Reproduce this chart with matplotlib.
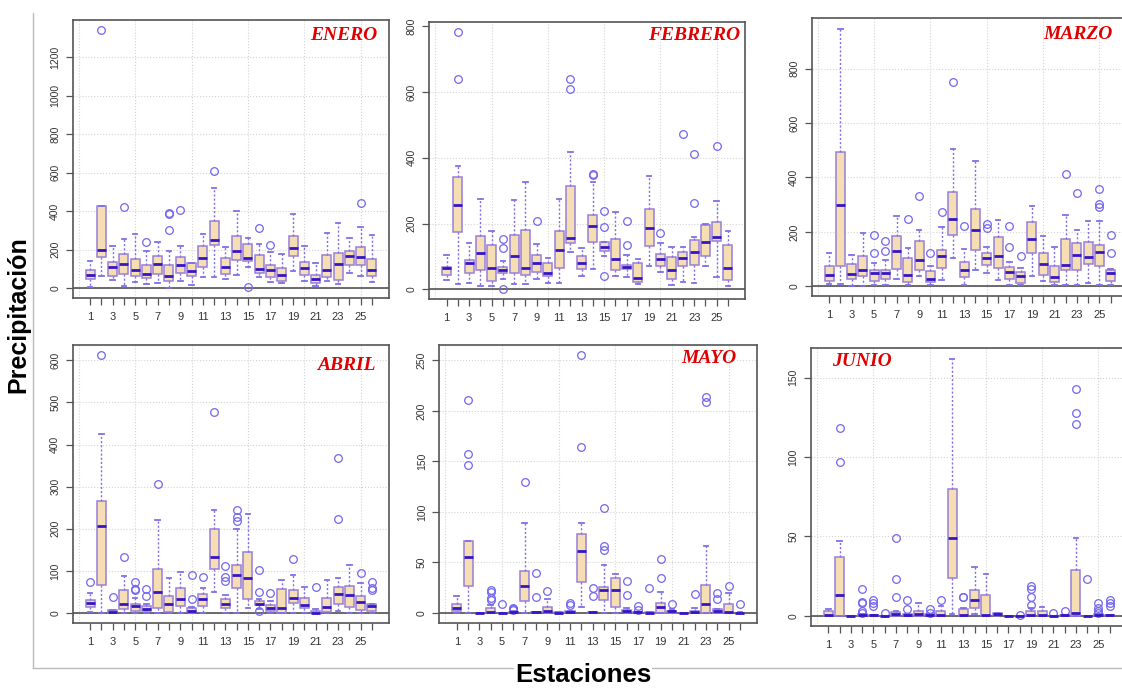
"""
Boxplots de precipitación mensual (enero-junio) por estación.
Réplica en matplotlib del gráfico de 6 paneles estilo R.
"""

import matplotlib
matplotlib.use("Agg")
import matplotlib.pyplot as plt
from matplotlib.lines import Line2D
from matplotlib.ticker import MultipleLocator


# ──────────────────────────────────────────────
# Datos: (bigote inf, Q1, mediana, Q3, bigote sup)
# ──────────────────────────────────────────────

STATIONS = list(range(1, 27))
MONTHS = ["ENERO", "FEBRERO", "MARZO", "ABRIL", "MAYO", "JUNIO"]

ENERO_BOX = [
    (5, 47, 69, 92, 142), (60, 160, 196, 425, 425), (40, 64, 109, 135, 217),
    (12, 73, 127, 177, 255), (30, 62, 95, 153, 281), (21, 52, 75, 118, 191),
    (24, 73, 125, 165, 239), (0, 35, 61, 118, 190), (35, 78, 118, 160, 220),
    (17, 61, 87, 128, 130), (55, 107, 156, 217, 281), (57, 222, 251, 347, 520),
    (47, 75, 111, 156, 212), (68, 147, 191, 269, 402), (109, 142, 156, 229, 260),
    (55, 78, 99, 172, 229), (33, 57, 95, 118, 187), (24, 35, 66, 102, 177),
    (87, 165, 206, 272, 385), (38, 68, 106, 135, 217), (12, 26, 47, 69, 130),
    (38, 59, 92, 173, 286), (23, 43, 125, 182, 338), (78, 118, 168, 191, 260),
    (64, 121, 163, 213, 317), (30, 64, 95, 151, 278),
]
ENERO_OUT = {2: [1341], 4: [423], 6: [239], 8: [385, 388, 304], 9: [404],
             12: [607], 15: [5], 16: [310], 17: [222], 25: [441]}

FEBRERO_BOX = [
    (28, 44, 64, 69, 104), (16, 175, 256, 342, 376), (18, 51, 79, 89, 140),
    (10, 59, 111, 163, 274), (10, 26, 64, 135, 177), (33, 49, 59, 69, 86),
    (16, 49, 102, 165, 271), (16, 44, 64, 180, 327), (33, 54, 79, 104, 137),
    (20, 40, 51, 81, 94), (20, 64, 119, 177, 274), (114, 142, 157, 314, 418),
    (40, 61, 79, 102, 127), (61, 145, 193, 226, 327), (101, 117, 130, 143, 143),
    (40, 59, 91, 153, 234), (38, 61, 69, 74, 104), (16, 23, 36, 79, 91),
    (71, 132, 188, 243, 344), (54, 71, 91, 109, 140), (13, 33, 59, 99, 128),
    (23, 71, 94, 114, 128), (18, 74, 114, 150, 160), (72, 102, 143, 197, 200),
    (38, 147, 158, 206, 268), (10, 28, 64, 135, 177),
]
FEBRERO_OUT = {2: [783, 639], 6: [153, 125, 1], 9: [208], 12: [639, 610],
               14: [352, 349], 15: [239, 190, 42], 17: [209, 135], 20: [170],
               22: [472], 23: [413, 264], 25: [436]}

MARZO_BOX = [
    (10, 18, 43, 74, 123), (10, 74, 298, 492, 947), (2, 25, 45, 82, 116),
    (2, 37, 61, 113, 196), (6, 21, 47, 61, 86), (6, 25, 47, 59, 98),
    (25, 64, 129, 184, 257), (6, 15, 42, 104, 141), (37, 59, 96, 165, 208),
    (6, 16, 28, 55, 76), (22, 67, 113, 135, 217), (104, 187, 247, 345, 505),
    (4, 34, 59, 89, 137), (59, 135, 205, 284, 459), (47, 77, 104, 123, 145),
    (22, 67, 113, 181, 245), (6, 27, 51, 71, 88), (4, 12, 37, 51, 67),
    (37, 123, 174, 235, 294), (18, 43, 82, 123, 184), (4, 15, 33, 74, 143),
    (4, 61, 77, 174, 263), (4, 61, 116, 159, 208), (12, 80, 108, 162, 239),
    (4, 74, 126, 153, 239), (4, 18, 49, 59, 62),
]
MARZO_OUT = {5: [190, 123], 6: [167, 131], 8: [249], 9: [331], 10: [123],
             11: [272], 12: [751], 13: [223], 15: [227, 214], 17: [221, 145],
             18: [113], 22: [413], 23: [343], 25: [358, 303, 292], 26: [190, 123]}

ABRIL_BOX = [
    (2, 14, 24, 32, 47), (0, 66, 207, 267, 425), (0, 0, 2, 6, 8),
    (0, 10, 22, 54, 87), (0, 4, 17, 21, 36), (0, 4, 10, 16, 22),
    (0, 12, 49, 105, 220), (0, 2, 22, 41, 82), (0, 17, 33, 59, 97),
    (0, 2, 4, 12, 14), (0, 17, 33, 44, 59), (51, 104, 132, 199, 245),
    (0, 12, 22, 33, 42), (0, 59, 91, 115, 199), (12, 33, 83, 146, 236),
    (9, 18, 22, 28, 33), (0, 4, 12, 20, 29), (0, 0, 12, 57, 78),
    (0, 24, 36, 55, 91), (0, 12, 20, 36, 61), (0, 0, 1, 4, 10),
    (0, 2, 14, 36, 78), (4, 21, 45, 62, 82), (0, 14, 42, 65, 115),
    (0, 8, 26, 40, 71), (0, 4, 17, 22, 22),
]
ABRIL_OUT = {1: [73], 2: [612], 3: [37], 4: [133], 5: [73, 57, 55], 6: [57, 40],
             7: [307], 10: [91, 33], 11: [85], 12: [477], 13: [112, 85, 75],
             14: [244, 227, 218], 16: [103, 50, 4], 17: [47], 19: [128],
             21: [62], 23: [368, 223], 25: [95], 26: [74, 59, 55]}

MAYO_BOX = [
    (0, 2, 5, 9, 17), (0, 27, 55, 71, 71), (0, 0, 0, 0, 0),
    (0, 0, 1, 5, 8), (0, 0, 0, 0, 0), (0, 0, 0.5, 1, 2),
    (0, 12, 27, 42, 89), (0, 0, 0.5, 1, 1), (0, 1, 2, 6, 14),
    (0, 0, 0, 0.5, 1), (0, 0, 1, 2, 2), (6, 31, 61, 78, 89),
    (0, 0, 0.5, 1, 1), (0, 13, 23, 26, 47), (0, 6, 23, 35, 39),
    (0, 1, 2, 3, 5), (0, 0, 0.5, 1, 1), (0, 0, 0, 0.5, 1),
    (0, 0, 6, 10, 21), (0, 0, 2, 2, 4), (0, 0, 0, 0, 0),
    (0, 0, 1, 2, 5), (0, 0, 9, 28, 66), (0, 0, 2, 4, 4),
    (0, 0, 1, 9, 20), (0, 0, 0, 0, 0.5),
]
MAYO_OUT = {2: [211, 157, 146], 4: [23, 21, 15, 13], 5: [9], 6: [5, 4, 3],
            7: [130], 8: [40, 16], 9: [22], 11: [10, 8], 12: [255, 164],
            13: [25, 17], 14: [104, 66, 62], 16: [32, 18], 17: [7, 3], 18: [25],
            19: [53, 35], 20: [9], 22: [19], 23: [214, 209], 24: [20, 14],
            25: [27], 26: [9]}

JUNIO_BOX = [
    (0, 0, 0.4, 3, 4), (0, 0, 13, 37, 47), (0, 0, 0, 0, 0),
    (0, 0, 0.3, 1, 1), (0, 0, 0.2, 0.5, 0.5), (0, 0, 0, 0, 0),
    (0, 0, 1, 2.5, 3), (0, 0, 0.5, 1, 1), (0, 0, 1, 3, 8),
    (0, 0, 0.3, 1, 1), (0, 0, 0.4, 3, 6), (1, 23.5, 49, 80, 162),
    (0, 0, 0.6, 4, 4.6), (1, 5, 10, 16, 31), (0, 0, 0.4, 13, 26),
    (0, 0.3, 1, 1.7, 2), (0, 0, 0, 0, 0), (0, 0, 0, 0, 0),
    (0, 0, 0.4, 3, 5), (0, 0, 0.4, 3, 5.7), (0, 0, 0, 0, 0),
    (0, 0, 0.2, 0.6, 0.6), (0, 0, 1.5, 29, 49), (0, 0, 0, 0, 0),
    (0, 0, 0.3, 1, 1), (0, 0, 0.3, 0.5, 0.5),
]
JUNIO_OUT = {2: [118, 97], 4: [17, 8.5, 8, 3, 1.5], 5: [10, 8, 6], 6: [2],
             7: [49, 23, 12], 8: [10, 4], 10: [4, 2], 11: [10], 13: [12, 11.5],
             18: [0.3], 19: [19, 17, 11.5, 7], 21: [1.5], 22: [3],
             23: [143, 128, 121], 24: [23], 25: [8, 5, 3, 1.5], 26: [10, 8, 6]}

BOXES = [ENERO_BOX, FEBRERO_BOX, MARZO_BOX, ABRIL_BOX, MAYO_BOX, JUNIO_BOX]
OUTLIERS = [ENERO_OUT, FEBRERO_OUT, MARZO_OUT, ABRIL_OUT, MAYO_OUT, JUNIO_OUT]
Y_STEPS = [200, 200, 200, 100, 50, 50]


# ──────────────────────────────────────────────
# Layout (pixels in a 1122x689 canvas) and styles
# ──────────────────────────────────────────────

W, H = 1122, 689

# (left, top, right, bottom) of each plot frame
PANEL_PX = [
    (72.7, 20.0, 389.3, 298.3),
    (429.3, 21.7, 745.3, 299.3),
    (811.7, 18.3, 1128.0, 296.0),
    (72.7, 345.0, 389.3, 623.3),
    (439.3, 345.0, 757.3, 623.3),
    (811.0, 348.3, 1127.0, 626.0),
]
# title anchor in axes fraction
TITLE_POS = [(0.961, 0.946, "right"), (0.983, 0.952, "right"),
             (0.950, 0.940, "right"), (0.955, 0.928, "right"),
             (0.936, 0.950, "right"), (0.066, 0.951, "left")]

FILL = "#F5DEB3"
BORDER = "#9A7FDA"
MEDIAN = "#3316C4"
WHISKER = "#7F6FE6"
FLIER = "#7366EE"
GRID = "#D3D3D3"
FRAME = "#555555"
TICK_TXT = "#333333"


def box_stats(boxes, outliers):
    stats = []
    for st, (lo, q1, med, q3, hi) in zip(STATIONS, boxes):
        stats.append({"whislo": lo, "q1": q1, "med": med, "q3": q3,
                      "whishi": hi, "fliers": outliers.get(st, [])})
    return stats


def draw_panel(fig, idx):
    l, t, r, b = PANEL_PX[idx]
    ax = fig.add_axes([l / W, 1 - b / H, (r - l) / W, (b - t) / H])

    stats = box_stats(BOXES[idx], OUTLIERS[idx])
    ax.bxp(stats, positions=STATIONS, widths=0.8, patch_artist=True,
           capwidths=0.4,
           boxprops=dict(facecolor=FILL, edgecolor=BORDER, linewidth=1.1),
           medianprops=dict(color=MEDIAN, linewidth=2.0, solid_capstyle="butt"),
           whiskerprops=dict(color=WHISKER, linewidth=1.0, linestyle=(0, (1.5, 1.5))),
           capprops=dict(color=WHISKER, linewidth=1.3),
           flierprops=dict(marker="o", markerfacecolor="none",
                           markeredgecolor=FLIER, markersize=5.5,
                           markeredgewidth=0.9))

    # R-style limits: data range extended by 4 %
    vals = [v for row in BOXES[idx] for v in row]
    vals += [v for lst in OUTLIERS[idx].values() for v in lst]
    lo, hi = min(vals), max(vals)
    pad = 0.04 * (hi - lo)
    ax.set_ylim(lo - pad, hi + pad)
    ax.set_xlim(0.5 - 0.04 * 26, 26.5 + 0.04 * 26)

    # grid (dotted, behind) at R axTicks
    for gx in range(0, 27, 5):
        ax.axvline(gx, color=GRID, lw=0.8, ls=":", zorder=0)
    step = Y_STEPS[idx]
    gy = 0
    while gy <= hi:
        ax.axhline(gy, color=GRID, lw=0.8, ls=":", zorder=0)
        gy += step
    ax.axhline(0, color="#444444", lw=1.1, zorder=1)

    ax.yaxis.set_major_locator(MultipleLocator(step))
    ax.set_xticks(STATIONS)
    ax.set_xticklabels([str(s) if s % 2 else "" for s in STATIONS])
    ax.tick_params(axis="x", length=5, width=0.9, color=FRAME, pad=5,
                   labelsize=8, labelcolor=TICK_TXT)
    ax.tick_params(axis="y", length=5, width=0.9, color=FRAME, pad=4,
                   labelsize=7.5, labelcolor=TICK_TXT, labelrotation=90)
    for lab in ax.get_yticklabels():
        lab.set_va("center")
    for sp in ax.spines.values():
        sp.set_color(FRAME)
        sp.set_linewidth(1.2)

    tx, ty, ha = TITLE_POS[idx]
    ax.text(tx, ty, MONTHS[idx], transform=ax.transAxes, ha=ha, va="center",
            color="#E00000", fontsize=14, fontweight="bold", fontstyle="italic",
            family="Liberation Serif")
    return ax


# ──────────────────────────────────────────────
# Main
# ──────────────────────────────────────────────

if __name__ == "__main__":
    plt.rcParams["font.family"] = ["Liberation Sans", "DejaVu Sans"]
    fig = plt.figure(figsize=(W / 100, H / 100), dpi=100)

    # outer frame of the composed image
    fig.add_artist(Line2D([33 / W, 33 / W], [1 - 13 / H, 1 - 668 / H],
                          color="#BBBBBB", lw=1, transform=fig.transFigure))
    fig.add_artist(Line2D([33 / W, 1.0], [1 - 668 / H, 1 - 668 / H],
                          color="#BBBBBB", lw=1, transform=fig.transFigure))

    for i in range(len(MONTHS)):
        draw_panel(fig, i)

    fig.text(18 / W, 1 - 315 / H, "Precipitación", rotation=90, ha="center",
             va="center", fontsize=18, fontweight="bold", color="black",
             bbox=dict(facecolor="white", edgecolor="none", pad=1))
    fig.text(583 / W, 1 - 675 / H, "Estaciones", ha="center", va="center",
             fontsize=18.5, fontweight="bold", color="black",
             bbox=dict(facecolor="white", edgecolor="none", pad=0.5))

    fig.savefig("out.png", dpi=100)
    plt.close(fig)
